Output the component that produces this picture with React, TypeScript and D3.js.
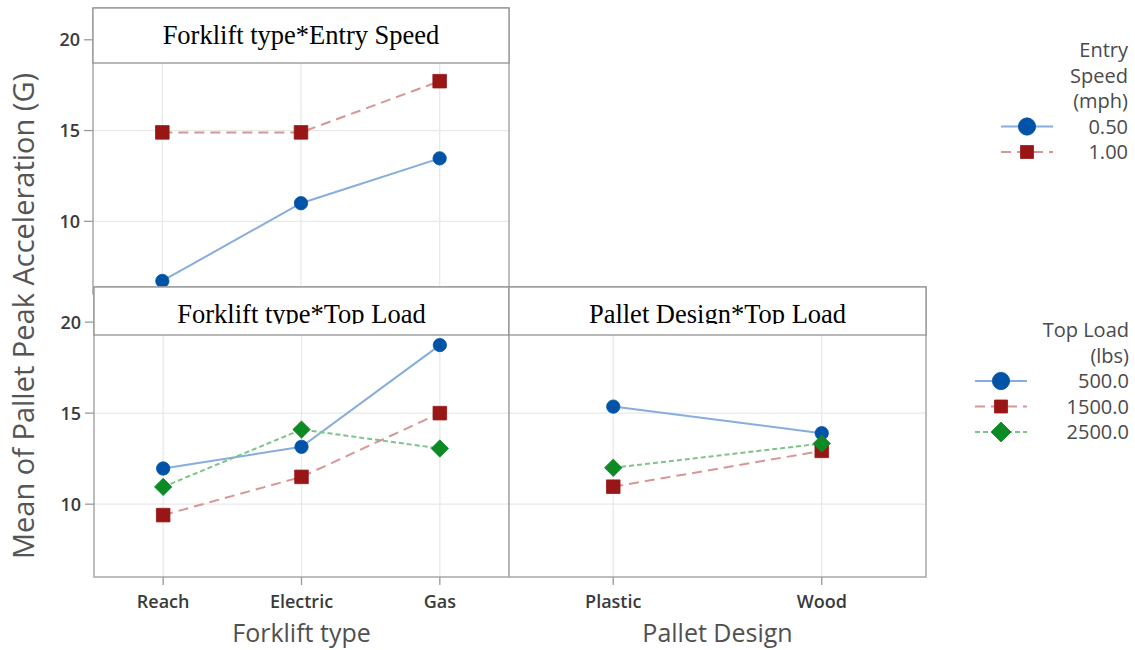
import React from "react";
import * as d3 from "d3";

// Factor levels
const forkliftTypes = ["Reach", "Electric", "Gas"];
const palletDesigns = ["Plastic", "Wood"];
const entrySpeedLevels = ["0.50", "1.00"];
const topLoadLevels = ["500.0", "1500.0", "2500.0"];

// Mean pallet peak acceleration (G): Forklift type x Entry Speed
const meanSpeed050 = [6.72, 11.0, 13.47];
const meanSpeed100 = [14.9, 14.9, 17.72];

// Forklift type x Top Load
const forkliftLoad500 = [11.96, 13.15, 18.74];
const forkliftLoad1500 = [9.4, 11.5, 15.0];
const forkliftLoad2500 = [10.95, 14.1, 13.06];

// Pallet Design x Top Load
const palletLoad500 = [15.36, 13.9];
const palletLoad1500 = [10.96, 12.93];
const palletLoad2500 = [12.0, 13.33];

const yTicks = [10, 15, 20];

const SANS = "'Open Sans', 'Noto Sans', sans-serif";
const SERIF = "'Liberation Serif', 'Times New Roman', serif";

type Shape = "circle" | "square" | "diamond";
const seriesStyles: { line: string; dash: string | null; fill: string; shape: Shape }[] = [
  { line: "#86addc", dash: null, fill: "#0053a6", shape: "circle" },
  { line: "#d69696", dash: "10,6", fill: "#981616", shape: "square" },
  { line: "#7dc487", dash: "5,3", fill: "#0c8a24", shape: "diamond" },
];

function markerPath(shape: Shape, big = false): { d: string; rotate: number } {
  if (shape === "circle") return { d: d3.symbol(d3.symbolCircle, big ? 235 : 140)()!, rotate: 0 };
  if (shape === "square") return { d: d3.symbol(d3.symbolSquare, big ? 169 : 185)()!, rotate: 0 };
  return { d: d3.symbol(d3.symbolSquare, big ? 200 : 150)()!, rotate: 45 };
}

function Marker({ shape, x, y, fill, big }: { shape: Shape; x: number; y: number; fill: string; big?: boolean }) {
  const m = markerPath(shape, big);
  return (
    <path
      d={m.d}
      transform={`translate(${x},${y}) rotate(${m.rotate})`}
      fill={fill}
      stroke={fill}
      strokeWidth={0.8}
    />
  );
}

type PanelProps = {
  id: string;
  x0: number;
  x1: number;
  y0: number;
  y1: number;
  yDomain: [number, number];
  categories: string[];
  series: number[][];
  title: string;
  titleH: number;
  showYAxis?: boolean;
  xTitle?: string;
  clipTitleAt?: number;
};

function Panel(p: PanelProps) {
  const x = d3.scalePoint<string>().domain(p.categories).range([p.x0, p.x1]).padding(0.5);
  const y = d3.scaleLinear().domain(p.yDomain).range([p.y1, p.y0]);
  const line = d3
    .line<number>()
    .x((_, i) => x(p.categories[i])!)
    .y((v) => y(v));
  const gridTop = p.y0 + p.titleH;
  return (
    <g>
      <rect x={p.x0} y={p.y0} width={p.x1 - p.x0} height={p.y1 - p.y0} fill="#fff" />
      {yTicks.map((t) => (
        <line key={"gy" + t} x1={p.x0} x2={p.x1} y1={y(t)} y2={y(t)} stroke="#e9e9e9" strokeWidth={1.3} />
      ))}
      {p.categories.map((c) => (
        <line key={"gx" + c} x1={x(c)} x2={x(c)} y1={gridTop} y2={p.y1} stroke="#e9e9e9" strokeWidth={1.3} />
      ))}
      {p.series.map((vals, si) => {
        const st = seriesStyles[si];
        return (
          <path
            key={"l" + si}
            d={line(vals)!}
            fill="none"
            stroke={st.line}
            strokeWidth={2}
            strokeDasharray={st.dash ?? undefined}
          />
        );
      })}
      {p.series.map((vals, si) =>
        vals.map((v, i) => (
          <Marker
            key={`m${si}-${i}`}
            shape={seriesStyles[si].shape}
            x={x(p.categories[i])!}
            y={y(v)}
            fill={seriesStyles[si].fill}
          />
        ))
      )}
      <rect
        x={p.x0}
        y={p.y0}
        width={p.x1 - p.x0}
        height={p.y1 - p.y0}
        fill="none"
        stroke="#a8a8a8"
        strokeWidth={1.5}
      />
      <rect
        x={p.x0}
        y={p.y0}
        width={p.x1 - p.x0}
        height={p.titleH}
        fill="#fff"
        stroke="#939393"
        strokeWidth={1.3}
      />
      {p.clipTitleAt !== undefined && (
        <clipPath id={p.id + "-clip"}>
          <rect x={p.x0} y={p.y0} width={p.x1 - p.x0} height={p.clipTitleAt - p.y0} />
        </clipPath>
      )}
      <text
        x={(p.x0 + p.x1) / 2}
        y={p.y0 + 36}
        textAnchor="middle"
        fontFamily={SERIF}
        fontSize={26.5}
        fill="#000"
        clipPath={p.clipTitleAt !== undefined ? `url(#${p.id}-clip)` : undefined}
      >
        {p.title}
      </text>
      {p.showYAxis &&
        yTicks.map((t) => (
          <g key={"yt" + t}>
            <line x1={p.x0 - 9} x2={p.x0} y1={y(t)} y2={y(t)} stroke="#9a9a9a" strokeWidth={1.3} />
            <text
              x={p.x0 - 13}
              y={y(t) + 6.5}
              textAnchor="end"
              fontFamily={SANS}
              fontWeight={600}
              fontSize={18}
              fill="#3a3a3a"
            >
              {t}
            </text>
          </g>
        ))}
      {p.xTitle && (
        <g>
          {p.categories.map((c) => (
            <g key={"xt" + c}>
              <line x1={x(c)} x2={x(c)} y1={p.y1} y2={p.y1 + 8} stroke="#9a9a9a" strokeWidth={1.3} />
              <text
                x={x(c)}
                y={p.y1 + 31}
                textAnchor="middle"
                fontFamily={SANS}
                fontWeight={600}
                fontSize={18}
                fill="#3a3a3a"
              >
                {c}
              </text>
            </g>
          ))}
          <text
            x={(p.x0 + p.x1) / 2}
            y={p.y1 + 65}
            textAnchor="middle"
            fontFamily={SANS}
            fontSize={25}
            fill="#505050"
          >
            {p.xTitle}
          </text>
        </g>
      )}
    </g>
  );
}

function Legend({
  titleLines,
  levels,
  right,
  firstBaseline,
  symbolX,
}: {
  titleLines: string[];
  levels: string[];
  right: number;
  firstBaseline: number;
  symbolX: number;
}) {
  const step = 25.5;
  const lines = [...titleLines, ...levels];
  return (
    <g fontFamily={SANS} fontSize={20} fill="#4a4a4a">
      {lines.map((t, i) => (
        <text key={t} x={right} y={firstBaseline + i * step} textAnchor="end">
          {t}
        </text>
      ))}
      {levels.map((lv, i) => {
        const st = seriesStyles[i];
        const cy = firstBaseline + (titleLines.length + i) * step - 7;
        return (
          <g key={"sym" + lv}>
            <line
              x1={symbolX - 26}
              x2={symbolX + 26}
              y1={cy}
              y2={cy}
              stroke={st.line}
              strokeWidth={2}
              strokeDasharray={st.dash ?? undefined}
            />
            <Marker shape={st.shape} x={symbolX} y={cy} fill={st.fill} big />
          </g>
        );
      })}
    </g>
  );
}

export default function App() {
  return (
    <svg
      width={1135}
      height={650}
      style={{ position: "absolute", left: 0, top: 0, background: "#fff" }}
    >
      <rect width={1135} height={650} fill="#fff" />
      <Panel
        id="speed"
        x0={93}
        x1={509}
        y0={8}
        y1={294}
        yDomain={[6, 21.75]}
        categories={forkliftTypes}
        series={[meanSpeed050, meanSpeed100]}
        title="Forklift type*Entry Speed"
        titleH={55}
        showYAxis
      />
      <Panel
        id="fork"
        x0={94}
        x1={509}
        y0={287}
        y1={577}
        yDomain={[6, 21.93]}
        categories={forkliftTypes}
        series={[forkliftLoad500, forkliftLoad1500, forkliftLoad2500]}
        title="Forklift type*Top Load"
        titleH={48}
        showYAxis
        xTitle="Forklift type"
        clipTitleAt={324}
      />
      <Panel
        id="pallet"
        x0={509}
        x1={926}
        y0={287}
        y1={577}
        yDomain={[6, 21.93]}
        categories={palletDesigns}
        series={[palletLoad500, palletLoad1500, palletLoad2500]}
        title="Pallet Design*Top Load"
        titleH={48}
        xTitle="Pallet Design"
        clipTitleAt={324}
      />
      <text
        transform="translate(34,316) rotate(-90)"
        textAnchor="middle"
        fontFamily={SANS}
        fontSize={29}
        fill="#555"
      >
        Mean of Pallet Peak Acceleration (G)
      </text>
      <Legend
        titleLines={["Entry", "Speed", "(mph)"]}
        levels={entrySpeedLevels}
        right={1128}
        firstBaseline={57}
        symbolX={1027}
      />
      <Legend
        titleLines={["Top Load", "(lbs)"]}
        levels={topLoadLevels}
        right={1129}
        firstBaseline={337}
        symbolX={1001}
      />
    </svg>
  );
}
